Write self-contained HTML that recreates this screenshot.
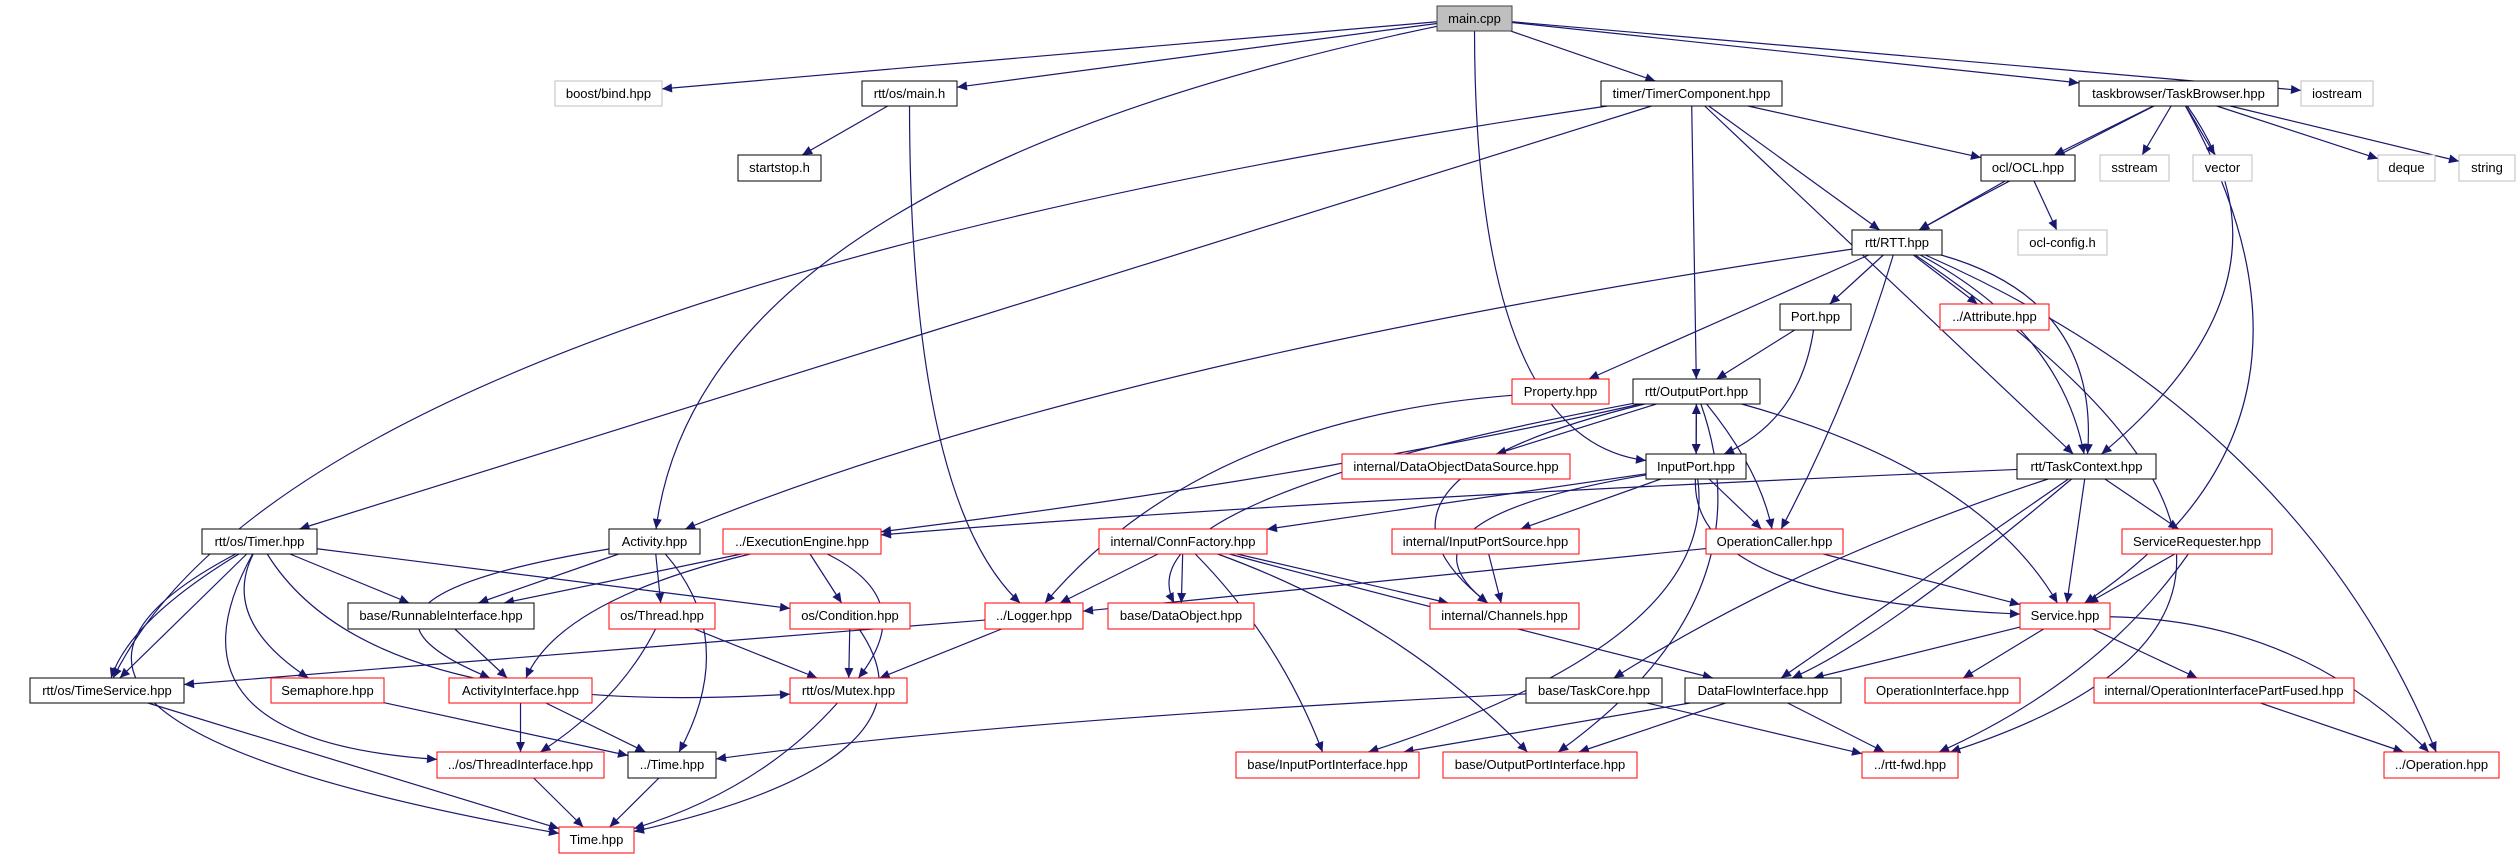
<!DOCTYPE html>
<html><head><meta charset="utf-8"><style>
html,body{margin:0;padding:0;background:#fff;}
svg{display:block;}
text{font-family:"Liberation Sans",sans-serif;font-size:13px;}
</style></head><body>
<svg id="g" width="2519" height="859" xmlns="http://www.w3.org/2000/svg">
<defs><marker id="a" viewBox="0 0 10 10" refX="10" refY="5" markerWidth="12" markerHeight="10" markerUnits="userSpaceOnUse" orient="auto"><path d="M0,0.5 L10,5 L0,9.5 z" fill="#191970"/></marker></defs>
<g id="edges" fill="none" stroke="#191970" stroke-width="1.2"></g>
<g id="nodes">
<rect x="1437" y="6" width="75" height="25" fill="#bfbfbf" stroke="#404040"/><text x="1474.5" y="23" text-anchor="middle">main.cpp</text>
<rect x="555" y="81" width="107" height="25" fill="#fff" stroke="#bfbfbf"/><text x="608.5" y="98" text-anchor="middle">boost/bind.hpp</text>
<rect x="862" y="81" width="95" height="25" fill="#fff" stroke="#000"/><text x="909.5" y="98" text-anchor="middle">rtt/os/main.h</text>
<rect x="1601" y="81" width="181" height="25" fill="#fff" stroke="#000"/><text x="1691.5" y="98" text-anchor="middle">timer/TimerComponent.hpp</text>
<rect x="2079" y="81" width="199" height="25" fill="#fff" stroke="#000"/><text x="2178.5" y="98" text-anchor="middle">taskbrowser/TaskBrowser.hpp</text>
<rect x="2301" y="81" width="72" height="25" fill="#fff" stroke="#bfbfbf"/><text x="2337" y="98" text-anchor="middle">iostream</text>
<rect x="738" y="155" width="83" height="26" fill="#fff" stroke="#000"/><text x="779.5" y="172" text-anchor="middle">startstop.h</text>
<rect x="1981" y="155" width="94" height="26" fill="#fff" stroke="#000"/><text x="2028" y="172" text-anchor="middle">ocl/OCL.hpp</text>
<rect x="2100" y="155" width="69" height="26" fill="#fff" stroke="#bfbfbf"/><text x="2134.5" y="172" text-anchor="middle">sstream</text>
<rect x="2193" y="155" width="59" height="26" fill="#fff" stroke="#bfbfbf"/><text x="2222.5" y="172" text-anchor="middle">vector</text>
<rect x="2378" y="155" width="57" height="26" fill="#fff" stroke="#bfbfbf"/><text x="2406.5" y="172" text-anchor="middle">deque</text>
<rect x="2459" y="155" width="56" height="26" fill="#fff" stroke="#bfbfbf"/><text x="2487" y="172" text-anchor="middle">string</text>
<rect x="1852" y="230" width="90" height="25" fill="#fff" stroke="#000"/><text x="1897" y="247" text-anchor="middle">rtt/RTT.hpp</text>
<rect x="2018" y="230" width="89" height="25" fill="#fff" stroke="#bfbfbf"/><text x="2062.5" y="247" text-anchor="middle">ocl-config.h</text>
<rect x="1780" y="304" width="71" height="26" fill="#fff" stroke="#000"/><text x="1815.5" y="321" text-anchor="middle">Port.hpp</text>
<rect x="1940" y="304" width="109" height="26" fill="#fff" stroke="#f00"/><text x="1994.5" y="321" text-anchor="middle">../Attribute.hpp</text>
<rect x="1512" y="379" width="97" height="25" fill="#fff" stroke="#f00"/><text x="1560.5" y="396" text-anchor="middle">Property.hpp</text>
<rect x="1633" y="379" width="127" height="25" fill="#fff" stroke="#000"/><text x="1696.5" y="396" text-anchor="middle">rtt/OutputPort.hpp</text>
<rect x="1342" y="454" width="228" height="25" fill="#fff" stroke="#f00"/><text x="1456" y="471" text-anchor="middle">internal/DataObjectDataSource.hpp</text>
<rect x="1646" y="454" width="100" height="25" fill="#fff" stroke="#000"/><text x="1696" y="471" text-anchor="middle">InputPort.hpp</text>
<rect x="2017" y="454" width="139" height="25" fill="#fff" stroke="#000"/><text x="2086.5" y="471" text-anchor="middle">rtt/TaskContext.hpp</text>
<rect x="202" y="529" width="115" height="25" fill="#fff" stroke="#000"/><text x="259.5" y="546" text-anchor="middle">rtt/os/Timer.hpp</text>
<rect x="609" y="529" width="91" height="25" fill="#fff" stroke="#000"/><text x="654.5" y="546" text-anchor="middle">Activity.hpp</text>
<rect x="723" y="529" width="158" height="25" fill="#fff" stroke="#f00"/><text x="802" y="546" text-anchor="middle">../ExecutionEngine.hpp</text>
<rect x="1099" y="529" width="168" height="25" fill="#fff" stroke="#f00"/><text x="1183" y="546" text-anchor="middle">internal/ConnFactory.hpp</text>
<rect x="1392" y="529" width="187" height="25" fill="#fff" stroke="#f00"/><text x="1485.5" y="546" text-anchor="middle">internal/InputPortSource.hpp</text>
<rect x="1706" y="529" width="137" height="25" fill="#fff" stroke="#f00"/><text x="1774.5" y="546" text-anchor="middle">OperationCaller.hpp</text>
<rect x="2122" y="529" width="150" height="25" fill="#fff" stroke="#f00"/><text x="2197" y="546" text-anchor="middle">ServiceRequester.hpp</text>
<rect x="348" y="603" width="186" height="26" fill="#fff" stroke="#000"/><text x="441" y="620" text-anchor="middle">base/RunnableInterface.hpp</text>
<rect x="609" y="603" width="106" height="26" fill="#fff" stroke="#f00"/><text x="662" y="620" text-anchor="middle">os/Thread.hpp</text>
<rect x="790" y="603" width="120" height="26" fill="#fff" stroke="#f00"/><text x="850" y="620" text-anchor="middle">os/Condition.hpp</text>
<rect x="985" y="603" width="98" height="26" fill="#fff" stroke="#f00"/><text x="1034" y="620" text-anchor="middle">../Logger.hpp</text>
<rect x="1108" y="603" width="146" height="26" fill="#fff" stroke="#f00"/><text x="1181" y="620" text-anchor="middle">base/DataObject.hpp</text>
<rect x="1430" y="603" width="149" height="26" fill="#fff" stroke="#f00"/><text x="1504.5" y="620" text-anchor="middle">internal/Channels.hpp</text>
<rect x="2020" y="603" width="90" height="26" fill="#fff" stroke="#f00"/><text x="2065" y="620" text-anchor="middle">Service.hpp</text>
<rect x="30" y="678" width="154" height="25" fill="#fff" stroke="#000"/><text x="107" y="695" text-anchor="middle">rtt/os/TimeService.hpp</text>
<rect x="271" y="678" width="113" height="25" fill="#fff" stroke="#f00"/><text x="327.5" y="695" text-anchor="middle">Semaphore.hpp</text>
<rect x="449" y="678" width="143" height="25" fill="#fff" stroke="#f00"/><text x="520.5" y="695" text-anchor="middle">ActivityInterface.hpp</text>
<rect x="790" y="678" width="117" height="25" fill="#fff" stroke="#f00"/><text x="848.5" y="695" text-anchor="middle">rtt/os/Mutex.hpp</text>
<rect x="1526" y="678" width="136" height="25" fill="#fff" stroke="#000"/><text x="1594" y="695" text-anchor="middle">base/TaskCore.hpp</text>
<rect x="1685" y="678" width="156" height="25" fill="#fff" stroke="#000"/><text x="1763" y="695" text-anchor="middle">DataFlowInterface.hpp</text>
<rect x="1865" y="678" width="155" height="25" fill="#fff" stroke="#f00"/><text x="1942.5" y="695" text-anchor="middle">OperationInterface.hpp</text>
<rect x="2094" y="678" width="260" height="25" fill="#fff" stroke="#f00"/><text x="2224" y="695" text-anchor="middle">internal/OperationInterfacePartFused.hpp</text>
<rect x="437" y="752" width="167" height="26" fill="#fff" stroke="#f00"/><text x="520.5" y="769" text-anchor="middle">../os/ThreadInterface.hpp</text>
<rect x="628" y="752" width="88" height="26" fill="#fff" stroke="#000"/><text x="672" y="769" text-anchor="middle">../Time.hpp</text>
<rect x="1236" y="752" width="183" height="26" fill="#fff" stroke="#f00"/><text x="1327.5" y="769" text-anchor="middle">base/InputPortInterface.hpp</text>
<rect x="1443" y="752" width="194" height="26" fill="#fff" stroke="#f00"/><text x="1540" y="769" text-anchor="middle">base/OutputPortInterface.hpp</text>
<rect x="1862" y="752" width="96" height="26" fill="#fff" stroke="#f00"/><text x="1910" y="769" text-anchor="middle">../rtt-fwd.hpp</text>
<rect x="2384" y="752" width="115" height="26" fill="#fff" stroke="#f00"/><text x="2441.5" y="769" text-anchor="middle">../Operation.hpp</text>
<rect x="559" y="827" width="75" height="26" fill="#fff" stroke="#f00"/><text x="596.5" y="844" text-anchor="middle">Time.hpp</text>
</g>
</svg>
<script>
var N={main:[1437,6,75,25],boost:[555,81,107,25],mainh:[862,81,95,25],timer:[1601,81,181,25],tb:[2079,81,199,25],ios:[2301,81,72,25],ss:[738,155,83,26],ocl:[1981,155,94,26],sst:[2100,155,69,26],vec:[2193,155,59,26],deq:[2378,155,57,26],str:[2459,155,56,26],rtt:[1852,230,90,25],cfg:[2018,230,89,25],port:[1780,304,71,26],attr:[1940,304,109,26],prop:[1512,379,97,25],out:[1633,379,127,25],dods:[1342,454,228,25],inp:[1646,454,100,25],tc:[2017,454,139,25],tmr:[202,529,115,25],act:[609,529,91,25],ee:[723,529,158,25],cf:[1099,529,168,25],ips:[1392,529,187,25],oc:[1706,529,137,25],sr:[2122,529,150,25],run:[348,603,186,26],thr:[609,603,106,26],cond:[790,603,120,26],log:[985,603,98,26],dobj:[1108,603,146,26],chan:[1430,603,149,26],svc:[2020,603,90,26],ts:[30,678,154,25],sem:[271,678,113,25],ai:[449,678,143,25],mtx:[790,678,117,25],tcore:[1526,678,136,25],dfi:[1685,678,156,25],opif:[1865,678,155,25],pf:[2094,678,260,25],ti:[437,752,167,26],t2:[628,752,88,26],ipi:[1236,752,183,26],opi:[1443,752,194,26],fwd:[1862,752,96,26],op:[2384,752,115,26],time:[559,827,75,26]};
var E=[["main","boost"],["main","mainh"],["main","timer"],["main","tb"],["main","ios"],["main","act",700,180],["main","inp",1475,440],
["mainh","ss"],["mainh","log",910,500],
["timer","ocl"],["timer","rtt"],["timer","out"],["timer","tc"],["timer","ts",300,300],["timer","tmr"],
["tb","rtt",1990,190],["tb","ocl"],["tb","sst"],["tb","vec"],["tb","deq"],["tb","str"],["tb","tc",2310,280],["tb","svc",2360,420],
["ocl","rtt"],["ocl","cfg"],
["rtt","port"],["rtt","attr"],["rtt","prop"],["rtt","act",1100,360],["rtt","oc",1850,400],["rtt","tc",2060,330],["rtt","tc",2100,300],["rtt","fwd",2420,600],["rtt","op",2300,420],
["port","out"],["port","inp",1800,420],
["prop","log",1200,420],
["out","inp"],["inp","out"],["out","dods"],["out","chan",1330,480],["out","dobj",1120,500],["out","oc",1760,470],["out","svc",1980,470],["out","opi",1770,600],["out","ee",1300,480],
["inp","cf"],["inp","ips"],["inp","oc"],["inp","svc",1690,600],["inp","ipi",1720,640],["inp","chan",1380,520],
["tc","ee",1300,500],["tc","sr"],["tc","svc"],["tc","dfi",1880,640],["tc","dfi"],["tc","tcore",1800,560],
["tmr","ts",130,620],["tmr","ts"],["tmr","run"],["tmr","cond"],["tmr","sem",220,620],["tmr","mtx",370,720],["tmr","ti",150,740],["tmr","time",-80,720],
["act","run"],["act","thr"],["act","t2",740,640],["act","ai",300,600],
["ee","run"],["ee","ai",560,600],["ee","cond"],["ee","mtx",920,600],
["cf","log"],["cf","dobj"],["cf","chan"],["cf","ipi",1280,640],["cf","opi",1400,620],["cf","dfi",1400,600],
["ips","chan"],["oc","svc"],["oc","log",1400,580],["sr","svc"],["sr","fwd",2100,680],
["run","ai"],["thr","mtx"],["thr","ti",620,700],["cond","mtx"],["cond","time",950,760],
["log","mtx"],["log","ts",500,660],["svc","dfi"],["svc","opif"],["svc","pf"],["svc","op",2300,620],
["ai","ti"],["ai","t2"],["sem","t2"],["mtx","time",760,790],["ts","time"],["tcore","t2",1000,720],["tcore","fwd"],
["dfi","ipi"],["dfi","opi"],["dfi","fwd"],["pf","op"],["ti","time"],["t2","time"]];
function c(n){var b=N[n];return [b[0]+b[2]/2,b[1]+b[3]/2];}
function clip(b,px,py,qx,qy){var dx=qx-px,dy=qy-py,t=1e9;
 if(dx) t=Math.min(t,(b[2]/2)/Math.abs(dx)); if(dy) t=Math.min(t,(b[3]/2)/Math.abs(dy));
 return [px+dx*t,py+dy*t];}
var g=document.getElementById('edges'),s='';
E.forEach(function(e){var a=N[e[0]],b=N[e[1]],pa=c(e[0]),pb=c(e[1]);
 var ca=e.length>2?[e[2],e[3]]:pb, cb=e.length>2?[e[2],e[3]]:pa;
 var p1=clip(a,pa[0],pa[1],ca[0],ca[1]),p2=clip(b,pb[0],pb[1],cb[0],cb[1]);
 if(e.length>2) s+='<path d="M'+p1[0]+','+p1[1]+' Q'+e[2]+','+e[3]+' '+p2[0]+','+p2[1]+'" marker-end="url(#a)"/>';
 else s+='<path d="M'+p1[0]+','+p1[1]+' L'+p2[0]+','+p2[1]+'" marker-end="url(#a)"/>';});
g.innerHTML=s;
</script>
</body></html>
